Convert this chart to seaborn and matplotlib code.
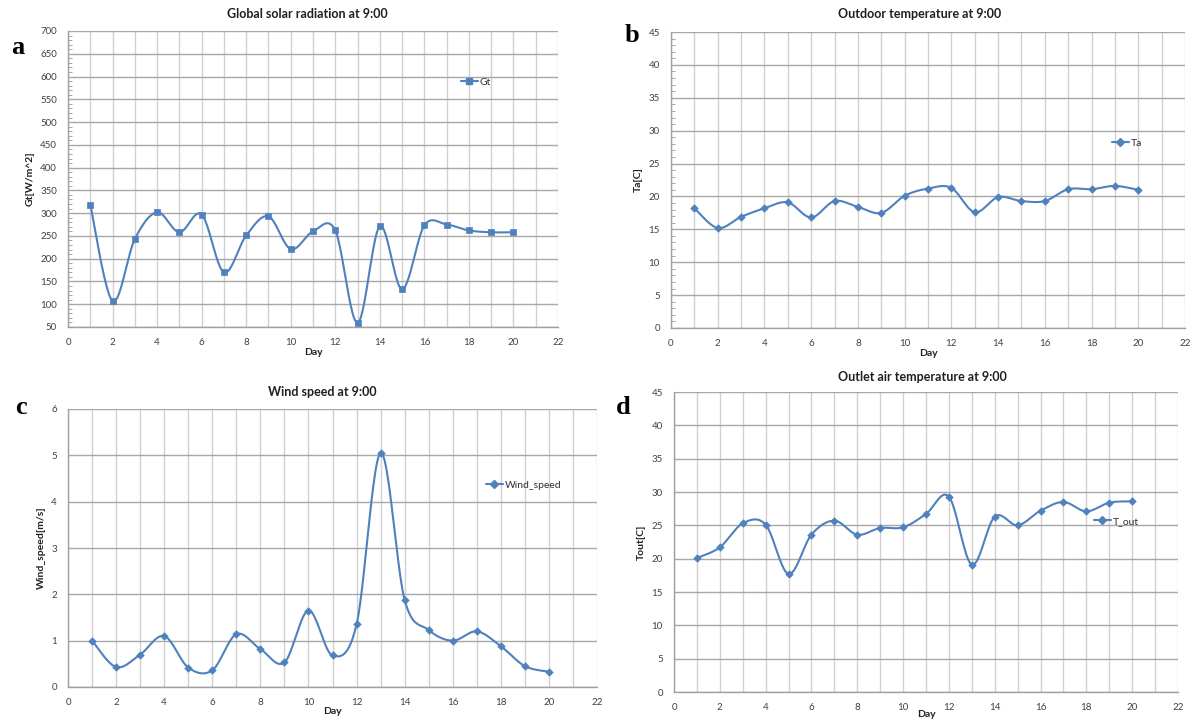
import numpy as np
import pandas as pd
import matplotlib
matplotlib.use("Agg")
import matplotlib.pyplot as plt
import seaborn as sns
from matplotlib.ticker import MultipleLocator
from matplotlib.lines import Line2D

# ---------------- data ----------------
days = list(range(1, 21))
gt = [319, 107, 243, 302, 258, 297, 170, 251, 293, 221,
      260, 262, 59, 271, 133, 273, 275, 262, 258, 258]
ta = [18.2, 15.2, 16.9, 18.2, 19.1, 16.8, 19.3, 18.4, 17.5, 20.1,
      21.2, 21.3, 17.6, 19.9, 19.3, 19.3, 21.1, 21.1, 21.6, 21.0]
wind = [1.00, 0.43, 0.70, 1.10, 0.42, 0.36, 1.14, 0.82, 0.53, 1.65,
        0.68, 1.35, 5.05, 1.88, 1.23, 1.00, 1.20, 0.88, 0.45, 0.33]
tout = [20.1, 21.7, 25.3, 25.1, 17.7, 23.6, 25.7, 23.6, 24.6, 24.7,
        26.7, 29.3, 19.1, 26.3, 25.0, 27.2, 28.5, 27.1, 28.4, 28.6]

titles = ["Global solar radiation at 9:00", "Outdoor temperature at 9:00",
          "Wind speed at 9:00", "Outlet air temperature at 9:00"]
ylabels = ["Gt[W/m^2]", "Ta[C]", "Wind_speed[m/s]", "Tout[C]"]
series_names = ["Gt", "Ta", "Wind_speed", "T_out"]
letters = ["a", "b", "c", "d"]

# ---------------- style ----------------
sns.set_theme(style="white")
plt.rcParams["font.family"] = ["Lato", "DejaVu Sans"]

W, H = 1194, 720
fig = plt.figure(figsize=(W / 100, H / 100), dpi=100)
BLUE = "#4F81BD"


def px_rect(l, t, r, b):
    return [l / W, 1 - b / H, (r - l) / W, (b - t) / H]


def smooth_curve(x, y, n=24):
    """Excel-like smoothed line (Catmull-Rom Bezier) for drawing only."""
    x = np.asarray(x, float)
    y = np.asarray(y, float)
    P = np.column_stack([x, y])
    out = []
    m = len(P)
    t = np.linspace(0, 1, n)
    for i in range(m - 1):
        p0 = P[i - 1] if i > 0 else P[i]
        p1 = P[i]
        p2 = P[i + 1]
        p3 = P[i + 2] if i + 2 < m else P[i + 1]
        c1 = p1 + (p2 - p0) / 6.0
        c2 = p2 - (p3 - p1) / 6.0
        seg = ((1 - t) ** 3)[:, None] * p1 + (3 * (1 - t) ** 2 * t)[:, None] * c1 \
            + (3 * (1 - t) * t ** 2)[:, None] * c2 + (t ** 3)[:, None] * p2
        out.append(seg if i == 0 else seg[1:])
    out = np.vstack(out)
    return out[:, 0], out[:, 1]


panels = [
    dict(rect=px_rect(68, 31, 558, 327), y=gt, ylim=(50, 700), ymaj=50, ymin=10,
         marker="s", ms=4.2, title_xy=(307, 14), letter_xy=(18, 48),
         leg_xy=(461, 82), xpad=1),
    dict(rect=px_rect(671, 32, 1185, 328), y=ta, ylim=(0, 45), ymaj=5, ymin=1,
         marker="D", ms=3.8, title_xy=(920, 14), letter_xy=(632, 36),
         leg_xy=(1112, 143), xpad=1),
    dict(rect=px_rect(68, 409, 597, 687), y=wind, ylim=(0, 6), ymaj=1, ymin=None,
         marker="D", ms=3.8, title_xy=(322, 392), letter_xy=(21, 408),
         leg_xy=(486, 485), xpad=0),
    dict(rect=px_rect(674, 392, 1178, 692), y=tout, ylim=(0, 45), ymaj=5, ymin=None,
         marker="D", ms=3.8, title_xy=(922, 377), letter_xy=(623, 408),
         leg_xy=(1094, 521), xpad=-1.5),
]

for i, p in enumerate(panels):
    ax = fig.add_axes(p["rect"])
    df = pd.DataFrame({"Day": days, "val": p["y"]})
    sx, sy = smooth_curve(df["Day"], df["val"])
    sm = pd.DataFrame({"Day": sx, "val": sy})
    sns.lineplot(data=sm, x="Day", y="val", sort=False, ax=ax, color=BLUE,
                 lw=1.5, zorder=3)
    sns.scatterplot(data=df, x="Day", y="val", ax=ax, marker=p["marker"],
                    s=p["ms"] ** 2, color=BLUE, edgecolor=BLUE, linewidth=0.5,
                    zorder=4)

    ax.set_xlim(0, 22)
    ax.set_ylim(*p["ylim"])
    ax.xaxis.set_major_locator(MultipleLocator(2))
    ax.xaxis.set_minor_locator(MultipleLocator(1))
    ax.yaxis.set_major_locator(MultipleLocator(p["ymaj"]))
    if p["ymin"]:
        ax.yaxis.set_minor_locator(MultipleLocator(p["ymin"]))
        ax.tick_params(axis="y", which="minor", direction="in", length=3,
                       width=0.6, color="#9a9a9a", left=True)
    ax.grid(True, axis="x", which="both", color="#d0d0d0", lw=1.0, zorder=0)
    ax.grid(True, axis="y", which="major", color="#a8a8a8", lw=1.0, zorder=0)
    ax.set_axisbelow(True)
    for s in ["top", "right"]:
        ax.spines[s].set_visible(False)
    for s in ["left", "bottom"]:
        ax.spines[s].set_color("#a0a0a0")
        ax.spines[s].set_linewidth(1.0)
    ax.tick_params(axis="both", which="major", length=0, labelsize=7,
                   labelcolor="#404040", pad=8)
    ax.set_xlabel("Day", fontsize=7.5, fontweight="bold", labelpad=p["xpad"],
                  color="#202020")
    ax.set_ylabel(ylabels[i], fontsize=7.5, fontweight="bold", labelpad=4,
                  color="#202020")

    tx, ty = p["title_xy"]
    fig.text(tx / W, 1 - ty / H, titles[i], ha="center", va="center",
             fontsize=9, fontweight="bold", color="#202020")
    lx, ly = p["letter_xy"]
    fig.text(lx / W, 1 - ly / H, letters[i], ha="center", va="center",
             fontsize=19, fontweight="bold", family="Liberation Serif",
             color="black")

    h = Line2D([0], [0], color=BLUE, lw=1.5, marker=p["marker"],
               markersize=p["ms"], markerfacecolor=BLUE,
               markeredgecolor=BLUE)
    gx, gy = p["leg_xy"]
    ax.legend([h], [series_names[i]], loc="center left",
              bbox_to_anchor=(gx / W, 1 - gy / H), bbox_transform=fig.transFigure,
              frameon=False, handlelength=1.6, handletextpad=0.2, borderpad=0,
              borderaxespad=0, fontsize=7.5, labelcolor="#303030")

fig.savefig("out.png", dpi=100)
